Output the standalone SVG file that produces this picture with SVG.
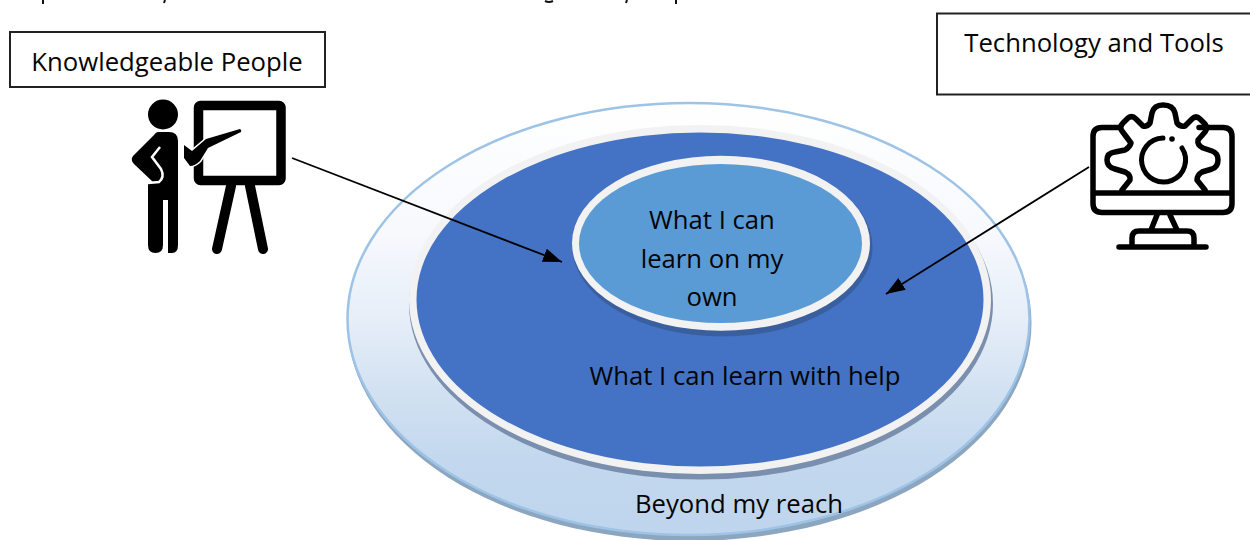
<svg xmlns="http://www.w3.org/2000/svg" width="1250" height="540" viewBox="0 0 1250 540">
<style>
text{font-family:"Open Sans","Noto Sans","Liberation Sans",sans-serif;font-size:25.7px;fill:#050505;text-anchor:middle}
.box{fill:#fff;stroke:#222;stroke-width:2}
.ic{fill:none;stroke:#000;stroke-linecap:round;stroke-linejoin:round}
.c{stroke:#000;stroke-width:1.800;fill:none;marker-end:url(#a)}
</style>
<defs>
<marker id="a" markerUnits="userSpaceOnUse" markerWidth="19" markerHeight="16" refX="19" refY="8" orient="auto"><path d="M0 1L19 8L0 15Z" fill="#000"/></marker>
<linearGradient id="g" x1="0" y1="0" x2="0" y2="1"><stop offset="0" stop-color="#fff"/><stop offset=".3" stop-color="#f7f9fd"/><stop offset=".5" stop-color="#e6eef8"/><stop offset=".66" stop-color="#d3e2f2"/><stop offset=".82" stop-color="#c3d8ee"/><stop offset="1" stop-color="#bfd5ed"/></linearGradient>
</defs>
<g id="outer"><ellipse cx="689.500" cy="323" rx="342" ry="218" fill="#8da6c0"/><ellipse cx="688.500" cy="319" rx="341" ry="216" fill="url(#g)" stroke="#9dc3e6" stroke-width="2.500"/><text x="739" y="513">Beyond my reach</text></g>
<g id="middle"><ellipse cx="701" cy="304" rx="292" ry="175.500" fill="#7a8fae"/><ellipse cx="700" cy="299.500" rx="291" ry="174.500" fill="#f2f2f2"/><ellipse cx="700" cy="299.500" rx="283.500" ry="167" fill="#4472c4"/><text x="745" y="385">What I can learn with help</text></g>
<g id="inner"><ellipse cx="722.500" cy="247" rx="150" ry="89.500" fill="#3a5f9f"/><ellipse cx="721" cy="243.300" rx="149" ry="87.500" fill="#f2f2f2"/><ellipse cx="720.500" cy="243.500" rx="141.500" ry="79.500" fill="#5b9bd5"/><text x="712" y="229">What I can</text><text x="712" y="268">learn on my</text><text x="712" y="306">own</text></g>
<g id="knowledgeable-people"><rect class="box" x="10" y="32" width="315" height="55"/><text x="167" y="71">Knowledgeable People</text>
<circle cx="163" cy="114.500" r="15"/>
<path d="M158 132h11q9 0 9 9V245q0 8-6 8h-4v-53h-5v45q0 8-7.500 8t-7.500-8V183l5-1-19-18q-4-4-1-8l21-21q2-3 4-3z" fill="#000"/>
<path d="M160 147L152 157 161 169Q165 177 159 182L148 183" fill="none" stroke="#fff" stroke-width="2.500"/>
<rect x="198.500" y="105.500" width="82.500" height="75" rx="2" class="ic" stroke-width="9.500"/>
<path d="M184 145l8 6 14-12 34-10q2 1 1 3l-33 16-8 13q-5 5-10 5l-6-8z" fill="#000" stroke="#fff" stroke-width="3" paint-order="stroke"/>
<path d="M231 186L217 249M250 186L263 249" class="ic" stroke-width="10"/></g>
<g id="technology-and-tools"><rect class="box" x="937" y="13.500" width="320" height="81"/><text x="1094" y="52">Technology and Tools</text>
<path d="M1120 127.500h-18q-9 0-9 9v67q0 9 9 9h121q9 0 9-9v-67q0-9-9-9h-24M1093 193h139" class="ic" stroke-width="5.500"/>
<path d="M1122 190L1130 180Q1131 175 1125 172L1115 169Q1107 167 1107 160Q1107 153 1115 152L1125 150Q1130 147 1131 143L1122 131Q1119 127 1123 123L1128 118Q1132 115 1136 119L1143 126Q1147 127 1150 123L1152 113Q1154 105 1163 105Q1173 105 1175 113L1177 123Q1180 127 1185 126L1192 119Q1196 115 1200 119L1205 124Q1208 128 1205 132L1198 140Q1197 145 1203 148L1212 151Q1218 153 1218 160Q1218 167 1212 169L1202 172Q1197 175 1197 180L1205 190" class="ic" stroke-width="5.500"/>
<path d="M1163 138a22 22 0 1 0 19 10" class="ic" stroke-width="5"/><circle cx="1172" cy="139" r="2.800"/>
<path d="M1157 215L1151 230M1170 215L1177 230M1132 245V238Q1132 231 1139 231H1187Q1194 231 1194 238V245M1119 247H1206" class="ic" stroke-width="5.500"/></g>
<g id="connectors"><path class="c" d="M292 158L562 262"/><path class="c" d="M1089 167L886 294"/></g>
<path id="cropped-line-marks" d="M43 0v4M165 0l-1 3M676 0v4M627 0l-1 3M545 1q4 2 8 0" fill="none" stroke="#111" stroke-width="2"/>
</svg>
